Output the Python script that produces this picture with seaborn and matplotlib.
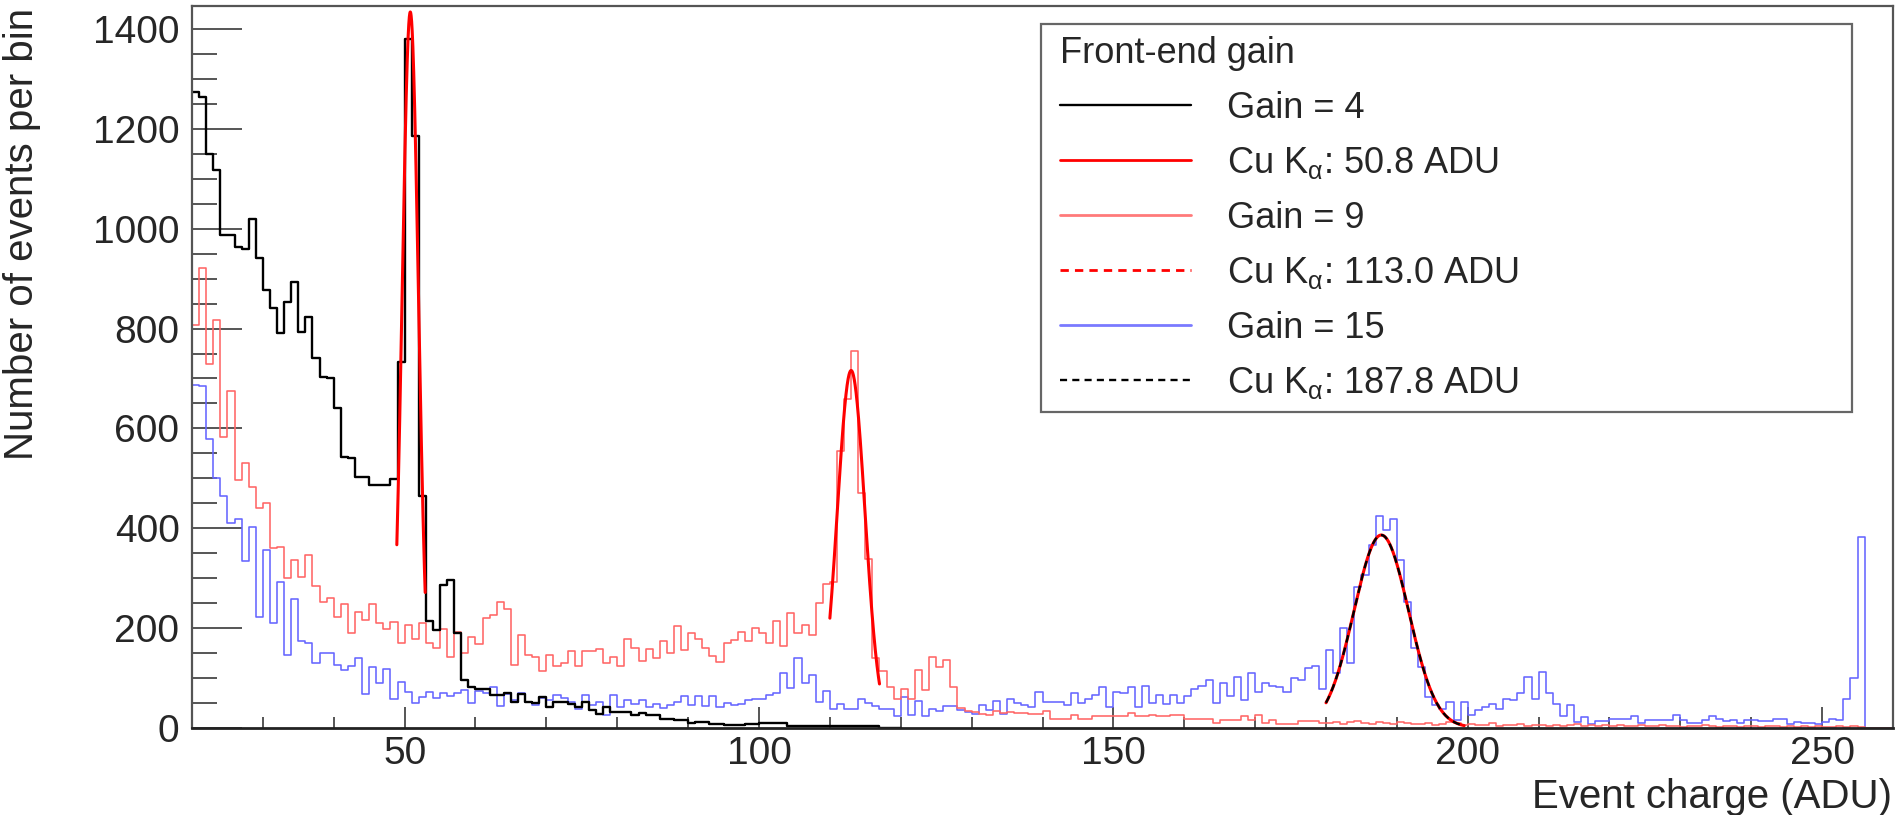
import numpy as np
import pandas as pd
import matplotlib
matplotlib.use("Agg")
import matplotlib.pyplot as plt
import seaborn as sns
from matplotlib.lines import Line2D
from matplotlib.patches import Rectangle
from matplotlib.ticker import MultipleLocator

# ---------------- data ----------------
first_bin = 20          # left edge of first bin (ADU)
bin_width = 1

# Gain = 4 (black), bins 20..119
gain4_counts = [
    1275, 1265, 1150, 1118, 988, 988, 964, 959, 1019, 941,   # 20
    878, 841, 792, 854, 893, 794, 824, 741, 703, 700,        # 30
    640, 543, 540, 502, 502, 486, 486, 486, 498, 734,        # 40
    1380, 1186, 464, 214, 196, 286, 295, 189, 95, 82,        # 50
    77, 77, 65, 65, 69, 52, 67, 52, 49, 62,                  # 60
    42, 52, 52, 47, 42, 52, 35, 28, 42, 32,                  # 70
    32, 32, 25, 30, 25, 25, 18, 18, 15, 15,                  # 80
    10, 12, 12, 8, 8, 6, 5, 5, 7, 7,                         # 90
    10, 10, 10, 10, 4, 4, 4, 4, 4, 4,                        # 100
    4, 4, 4, 4, 4, 4, 4, 0, 0, 0,                            # 110
]

# Gain = 9 (light red), bins 20..259
gain9_counts = [
    807, 922, 729, 817, 583, 674, 496, 531, 482, 440,        # 20
    450, 359, 363, 300, 336, 302, 346, 284, 252, 259,        # 30
    221, 248, 189, 232, 216, 248, 209, 197, 212, 170,        # 40
    206, 178, 209, 169, 159, 197, 141, 192, 149, 182,        # 50
    168, 219, 226, 251, 237, 125, 186, 145, 142, 114,        # 60
    145, 124, 129, 154, 123, 154, 154, 157, 129, 141,        # 70
    123, 177, 159, 134, 157, 139, 174, 149, 204, 155,        # 80
    189, 177, 159, 143, 132, 169, 175, 192, 174, 199,        # 90
    189, 169, 214, 163, 230, 189, 205, 186, 249, 287,        # 100
    292, 555, 658, 756, 471, 337, 139, 114, 81, 58,          # 110
    77, 58, 115, 75, 141, 122, 135, 81, 40, 34,              # 120
    32, 28, 25, 34, 30, 32, 30, 30, 28, 28,                  # 130
    34, 18, 18, 18, 25, 18, 18, 23, 23, 23,                  # 140
    23, 23, 30, 23, 23, 25, 23, 23, 25, 25,                  # 150
    18, 18, 18, 18, 10, 16, 16, 16, 23, 15,                  # 160
    25, 10, 16, 8, 8, 8, 14, 14, 14, 10,                     # 170
    10, 12, 8, 12, 14, 10, 8, 12, 10, 8,                     # 180
    12, 10, 7, 8, 10, 6, 8, 12, 10, 6,                       # 190
    8, 5, 6, 9, 4, 6, 5, 7, 4, 6,                            # 200
    5, 3, 6, 4, 5, 7, 3, 5, 4, 6,                            # 210
    3, 5, 4, 3, 6, 4, 3, 5, 4, 3,                            # 220
    2, 4, 3, 5, 3, 2, 4, 3, 2, 4,                            # 230
    3, 2, 3, 4, 2, 3, 2, 3, 2, 3,                            # 240
    2, 2, 3, 2, 3, 2, 0, 0, 0, 0,                            # 250
]

# Gain = 15 (light blue), bins 20..259
gain15_counts = [
    687, 684, 578, 500, 464, 411, 418, 333, 403, 222,        # 20
    356, 210, 292, 145, 257, 174, 169, 129, 150, 150,        # 30
    125, 115, 123, 139, 67, 121, 89, 117, 57, 92,            # 40
    72, 50, 62, 72, 60, 69, 63, 70, 75, 49,                  # 50
    74, 70, 81, 43, 67, 55, 69, 52, 45, 60,                  # 60
    55, 65, 59, 52, 38, 65, 45, 52, 25, 65,                  # 70
    42, 55, 47, 55, 42, 47, 40, 45, 52, 63,                  # 80
    45, 63, 43, 63, 42, 50, 45, 47, 55, 57,                  # 90
    57, 65, 69, 109, 79, 139, 89, 105, 52, 74,               # 100
    38, 47, 38, 38, 57, 49, 43, 38, 38, 23,                  # 110
    62, 25, 54, 23, 38, 34, 43, 43, 35, 32,                  # 120
    27, 45, 35, 53, 27, 57, 50, 46, 42, 72,                  # 130
    51, 51, 51, 45, 69, 49, 58, 65, 81, 42,                  # 140
    72, 69, 81, 42, 83, 49, 65, 47, 65, 49,                  # 150
    63, 77, 83, 95, 49, 89, 63, 101, 55, 110,                # 160
    72, 90, 83, 82, 72, 99, 95, 119, 123, 77,                # 170
    155, 109, 199, 129, 282, 306, 366, 424, 396, 418,        # 180
    336, 252, 159, 122, 62, 45, 38, 52, 16, 52,              # 190
    25, 35, 42, 47, 38, 57, 55, 70, 102, 57,                 # 200
    112, 69, 47, 23, 45, 12, 22, 8, 14, 14,                  # 210
    18, 18, 18, 23, 10, 16, 16, 16, 16, 25,                  # 220
    16, 10, 10, 16, 23, 18, 14, 16, 10, 16,                  # 230
    16, 14, 14, 18, 18, 8, 12, 10, 10, 7,                    # 240
    12, 18, 16, 57, 99, 383, 0, 0, 0, 0,                     # 250
]

series_labels = ["Gain = 4", "Gain = 9", "Gain = 15"]

# Gaussian fits (Cu K-alpha)
fit_labels = [r"Cu K$_{\alpha}$: 50.8 ADU", r"Cu K$_{\alpha}$: 113.0 ADU",
              r"Cu K$_{\alpha}$: 187.8 ADU"]
fit_means = [50.8, 113.0, 187.8]
fit_amps = [1435, 716, 386]
fit_sigmas = [1.15, 1.95, 3.85]
fit_lo = [48.9, 110.0, 180.0]
fit_hi = [52.9, 117.0, 199.5]

legend_title = "Front-end gain"
x_label = "Event charge (ADU)"
y_label = "Number of events per bin"

# ---------------- styling ----------------
sns.set_style("white")
plt.rcParams["font.family"] = ["Liberation Sans", "DejaVu Sans"]
plt.rcParams["mathtext.fontset"] = "custom"
plt.rcParams["mathtext.rm"] = "Liberation Sans"
plt.rcParams["mathtext.it"] = "Liberation Sans"
plt.rcParams["mathtext.default"] = "regular"

W, H = 1897, 815
fig = plt.figure(figsize=(W / 100, H / 100), dpi=100)
ax = fig.add_axes([192 / W, 87.5 / H, 1701 / W, 721.5 / H])

hist_colors = ["black", "#ff6666", "#6666ff"]
hist_lw = [1.7, 1.15, 1.15]
all_counts = [gain4_counts, gain9_counts, gain15_counts]

for idx in [2, 1, 0]:
    counts = np.asarray(all_counts[idx], dtype=float)
    edges = first_bin + np.arange(len(counts) + 1) * bin_width
    centers = edges[:-1] + bin_width / 2
    df = pd.DataFrame({"charge": centers, "count": counts})
    sns.histplot(data=df, x="charge", weights="count",
                 bins=[float(e) for e in edges],
                 element="step", fill=False, color=hist_colors[idx],
                 linewidth=hist_lw[idx], ax=ax, zorder=2 + (2 - idx) * 0.1)

for i in range(3):
    xs = np.linspace(fit_lo[i], fit_hi[i], 300)
    ys = fit_amps[i] * np.exp(-0.5 * ((xs - fit_means[i]) / fit_sigmas[i]) ** 2)
    sns.lineplot(x=xs, y=ys, color="#ff0000", linewidth=2.2, ax=ax,
                 estimator=None, sort=False, zorder=3)
    if i == 2:
        sns.lineplot(x=xs, y=ys, color="black", linewidth=1.7, ax=ax,
                     estimator=None, sort=False, linestyle=(0, (3.2, 2.2)),
                     zorder=3.1)

ax.set_xlim(20, 260)
ax.set_ylim(0, 1447)
ax.set_xlabel("")
ax.set_ylabel("")

ax.xaxis.set_major_locator(MultipleLocator(50))
ax.xaxis.set_minor_locator(MultipleLocator(10))
ax.yaxis.set_major_locator(MultipleLocator(200))
ax.yaxis.set_minor_locator(MultipleLocator(50))

ax.tick_params(axis="y", which="major", direction="in", length=36, width=1.4,
               color="#555555", labelsize=28, pad=9, right=False, left=True)
ax.tick_params(axis="y", which="minor", direction="in", length=18, width=1.4,
               color="#555555", right=False, left=True)
ax.tick_params(axis="x", which="major", direction="in", length=15, width=1.4,
               color="#555555", labelsize=28, pad=6, top=False, bottom=True)
ax.tick_params(axis="x", which="minor", direction="in", length=8, width=1.4,
               color="#555555", top=False, bottom=True)

for side in ["left", "top", "right"]:
    ax.spines[side].set_color("#555555")
    ax.spines[side].set_linewidth(1.6)
ax.spines["bottom"].set_color("#222222")
ax.spines["bottom"].set_linewidth(2.0)

# legend box (ROOT-like fixed frame)
ax.add_patch(Rectangle((0.499, 0.4373), 0.477, 0.5378, transform=ax.transAxes,
                       facecolor="white", edgecolor="#666666", lw=1.6,
                       zorder=4))

handles = [
    Line2D([], [], color="black", lw=1.7),
    Line2D([], [], color="#ff0000", lw=2.0),
    Line2D([], [], color="#ff7a7a", lw=2.0),
    Line2D([], [], color="#ff0000", lw=2.0, linestyle=(0, (3, 2.2))),
    Line2D([], [], color="#7a7aff", lw=2.0),
    Line2D([], [], color="black", lw=1.7, linestyle=(0, (3, 2.2))),
]
labels = [series_labels[0], fit_labels[0], series_labels[1], fit_labels[1],
          series_labels[2], fit_labels[2]]
leg = ax.legend(handles, labels, title=legend_title, loc="upper left",
                bbox_to_anchor=(0.5103, 0.9584), frameon=False, fontsize=26,
                title_fontsize=26, borderpad=0, borderaxespad=0,
                handlelength=3.62, handletextpad=1.0, labelspacing=0.54,
                alignment="left")
leg.set_zorder(5)

fig.text(33.5 / W, 1 - 8 / H, y_label, rotation=90, rotation_mode="anchor",
         ha="right", va="baseline", fontsize=29)
fig.text(1892 / W, (H - 808) / H, x_label, ha="right", va="baseline",
         fontsize=29)

fig.savefig("out.png", dpi=100)
